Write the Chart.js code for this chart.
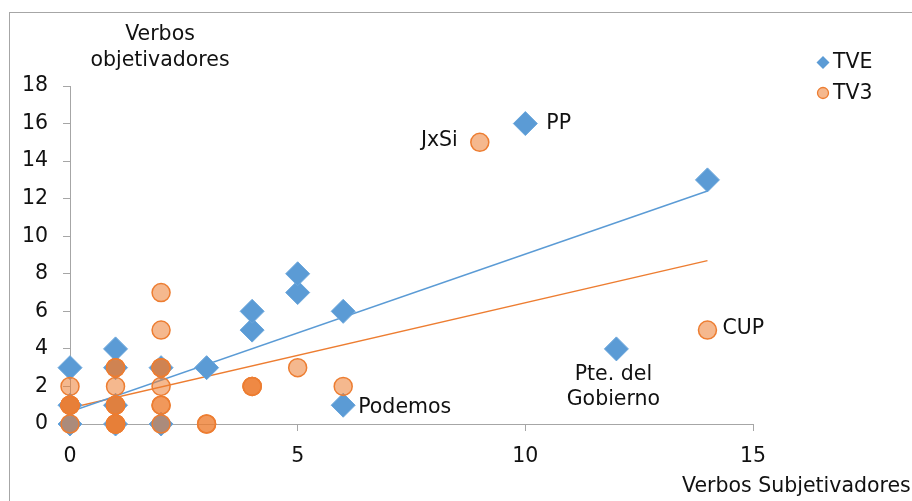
<!DOCTYPE html>
<html><head><meta charset="utf-8">
<script src="https://cdn.jsdelivr.net/npm/chart.js@4.4.1/dist/chart.umd.min.js"></script>
<style>html,body{margin:0;padding:0;background:#fff}#wrap{width:912px;height:501px;position:relative}</style>
</head><body><div id="wrap"><canvas id="c" width="912" height="501"></canvas></div>
<script>
// ---- data ----
const tveX = [0, 0, 0, 1, 1, 1, 1, 2, 2, 3, 4, 4, 5, 5, 6, 6, 10, 12, 14];
const tveY = [0, 1, 3, 0, 1, 3, 4, 0, 3, 3, 5, 6, 7, 8, 6, 1, 16, 4, 13];
const tv3X = [0, 0, 0, 0, 0, 0, 1, 1, 1, 1, 1, 1, 1, 1, 1, 1, 2, 2, 2, 2, 2, 2, 2, 2, 3, 3, 4, 4, 4, 5, 6, 9, 14];
const tv3Y = [0, 1, 1, 1, 1, 2, 0, 0, 0, 0, 1, 1, 1, 2, 3, 3, 0, 1, 1, 2, 3, 3, 5, 7, 0, 0, 2, 2, 2, 3, 2, 15, 5];
const tveTrendX = [0, 14];
const tveTrendY = [0.65, 12.41];
const tv3TrendX = [0, 14];
const tv3TrendY = [0.85, 8.7];
const seriesNames = ['TVE', 'TV3'];
const yTitle = ['Verbos', 'objetivadores'];
const xTitle = 'Verbos Subjetivadores';
const pointLabels = ['JxSi', 'PP', 'Podemos', 'CUP', 'Pte. del|Gobierno'];
const pointLabelX = [9, 10, 6, 14, 12];
const pointLabelY = [15, 16, 1, 5, 4];

// ---- styles ----
const BLUE = '#5B9BD5';
const ORANGE = '#ED7D31';
const ORANGE_FILL = 'rgba(237,125,49,0.55)';
const GREY = '#A6A6A6';
const TXT = '#111111';
const FAM = '"DejaVu Sans", Verdana, sans-serif';
const FS = 20.5;
const FONT = FS + 'px ' + FAM;

const pts = (xs, ys) => xs.map((x, i) => ({x: x, y: ys[i]}));

const annot = {
  id: 'annot',
  beforeDraw(chart) {
    const ctx = chart.ctx;
    ctx.save();
    ctx.fillStyle = '#fff';
    ctx.fillRect(0, 0, chart.width, chart.height);
    ctx.strokeStyle = GREY;
    ctx.lineWidth = 1;
    ctx.strokeRect(9.5, 12.5, 1200, 1200);
    ctx.restore();
  },
  afterDraw(chart) {
    const ctx = chart.ctx;
    const xs = chart.scales.x, ys = chart.scales.y;
    ctx.save();
    ctx.font = FONT;
    ctx.fillStyle = TXT;
    ctx.textBaseline = 'middle';
    // y title
    ctx.textAlign = 'center';
    ctx.fillText(yTitle[0], 160, 35);
    ctx.fillText(yTitle[1], 160, 61);
    // x title
    ctx.textAlign = 'left';
    ctx.fillText(xTitle, 682, 487);
    // point labels
    const off = [
      {dx: -22, dy: -2, align: 'right'},
      {dx: 21, dy: 0, align: 'left'},
      {dx: 15, dy: 2, align: 'left'},
      {dx: 15, dy: -1, align: 'left'},
      {dx: -3, dy: 26, align: 'center', lh: 25}
    ];
    pointLabels.forEach((t, i) => {
      const px = xs.getPixelForValue(pointLabelX[i]);
      const py = ys.getPixelForValue(pointLabelY[i]);
      const o = off[i];
      ctx.textAlign = o.align;
      t.split('|').forEach((line, j) => {
        ctx.fillText(line, px + o.dx, py + o.dy + j * (o.lh || 0));
      });
    });
    // legend
    const lx = 823;
    // diamond
    ctx.fillStyle = BLUE;
    ctx.beginPath();
    ctx.moveTo(lx, 62.5 - 6.5); ctx.lineTo(lx + 6.5, 62.5); ctx.lineTo(lx, 62.5 + 6.5); ctx.lineTo(lx - 6.5, 62.5);
    ctx.closePath(); ctx.fill();
    // circle
    ctx.beginPath();
    ctx.arc(lx, 93, 5.5, 0, Math.PI * 2);
    ctx.fillStyle = ORANGE_FILL; ctx.fill();
    ctx.strokeStyle = ORANGE; ctx.lineWidth = 1.3; ctx.stroke();
    ctx.fillStyle = TXT;
    ctx.textAlign = 'left';
    ctx.fillText(seriesNames[0], 833, 63);
    ctx.fillText(seriesNames[1], 833, 94);
    ctx.restore();
  }
};

new Chart(document.getElementById('c'), {
  type: 'scatter',
  data: {
    datasets: [
      {label: seriesNames[1], data: pts(tv3X, tv3Y), order: 0, pointStyle: 'circle', pointRadius: 9, pointHoverRadius: 9,
       backgroundColor: ORANGE_FILL, borderColor: ORANGE, borderWidth: 1.5, clip: false},
      {label: seriesNames[0], data: pts(tveX, tveY), order: 1, pointStyle: 'rectRot', pointRadius: 12, pointHoverRadius: 12,
       backgroundColor: BLUE, borderColor: '#6aa6dc', borderWidth: 1, clip: false},
      {type: 'line', label: 'trend TVE', data: pts(tveTrendX, tveTrendY), order: 2, borderColor: BLUE, borderWidth: 1.5,
       pointRadius: 0, fill: false, showLine: true},
      {type: 'line', label: 'trend TV3', data: pts(tv3TrendX, tv3TrendY), order: 3, borderColor: ORANGE, borderWidth: 1.5,
       pointRadius: 0, fill: false, showLine: true}
    ]
  },
  options: {
    responsive: false,
    animation: false,
    events: [],
    layout: {padding: {top: 86, right: 159, left: 0, bottom: 0}},
    plugins: {legend: {display: false}, tooltip: {enabled: false}},
    scales: {
      x: {
        type: 'linear', min: 0, max: 15,
        afterFit(s) { s.height = 77; },
        ticks: {stepSize: 5, font: {family: FAM, size: FS}, color: TXT, padding: 13, maxRotation: 0},
        grid: {display: true, drawOnChartArea: false, drawTicks: true, tickLength: 7, color: GREY},
        border: {display: true, color: GREY}
      },
      y: {
        type: 'linear', min: 0, max: 18,
        afterFit(s) { s.width = 70; },
        ticks: {stepSize: 2, font: {family: FAM, size: FS}, color: TXT, padding: 15},
        grid: {display: true, drawOnChartArea: false, drawTicks: true, tickLength: 7, color: GREY},
        border: {display: true, color: GREY}
      }
    }
  },
  plugins: [annot]
});
</script>
</body></html>
